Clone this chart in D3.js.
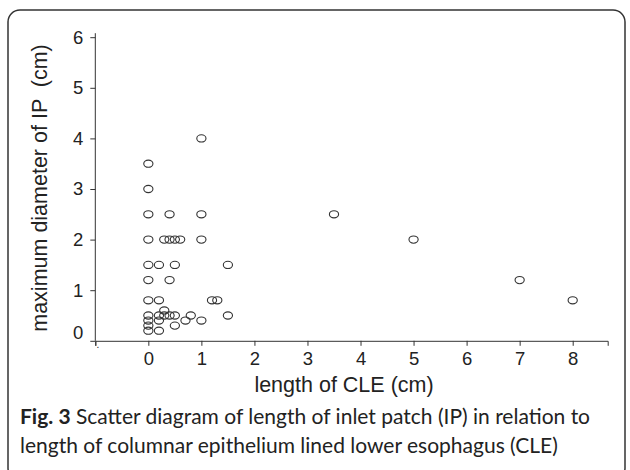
<!DOCTYPE html>
<html>
<head>
<meta charset="utf-8">
<script src="https://cdn.jsdelivr.net/npm/d3@7"></script>
<style>
  html, body { margin: 0; padding: 0; background: #fff; }
  svg { display: block; }
</style>
</head>
<body>
<svg id="chart" width="630" height="470"></svg>
<script>
// ---- data: length of CLE (cm) vs maximum diameter of IP (cm) ----
const cleLength = [
  0, 0, 0, 0, 0, 0, 0, 0, 0, 0, 0,
  0.2, 0.2, 0.2, 0.2, 0.2,
  0.3, 0.3, 0.3,
  0.4, 0.4, 0.4, 0.4,
  0.5, 0.5, 0.5, 0.5,
  0.6,
  0.7,
  0.8,
  1.0, 1.0, 1.0, 1.0,
  1.2, 1.3,
  1.5, 1.5,
  3.5, 5, 7, 8
];
const ipDiameter = [
  3.5, 3, 2.5, 2, 1.5, 1.2, 0.8, 0.5, 0.4, 0.3, 0.2,
  1.5, 0.8, 0.5, 0.4, 0.2,
  2, 0.6, 0.5,
  2.5, 2, 1.2, 0.5,
  2, 1.5, 0.5, 0.3,
  2,
  0.4,
  0.5,
  4, 2.5, 2, 0.4,
  0.8, 0.8,
  1.5, 0.5,
  2.5, 2, 1.2, 0.8
];
const xTicks = [-1, 0, 1, 2, 3, 4, 5, 6, 7, 8];
const xTickLabels = [".", "0", "1", "2", "3", "4", "5", "6", "7", "8"];
const yTicks = [0, 1, 2, 3, 4, 5, 6];
const yTickLabels = ["0", "1", "2", "3", "4", "5", "6"];
const xTitle = "length of CLE (cm)";
const yTitle = "maximum diameter of IP  (cm)";
const captionBold = "Fig. 3";
const captionLine1 = " Scatter diagram of length of inlet patch (IP) in relation to";
const captionLine2 = "length of columnar epithelium lined lower esophagus (CLE)";

const svg = d3.select("#chart");
const ink = "#222";
const axisCol = "#333";

// frame
svg.append("rect")
  .attr("x", 8).attr("y", 10).attr("width", 617).attr("height", 470)
  .attr("rx", 12).attr("ry", 12)
  .attr("fill", "none").attr("stroke", "#333").attr("stroke-width", 1.5);

const x = d3.scaleLinear().domain([-1, 8.66]).range([95.3, 607.7]);
const y = d3.scaleLinear().domain([0, 6]).range([340.8, 37.2]);

const font = "'Liberation Sans', Arial, sans-serif";

// x axis
const gx = svg.append("g").attr("transform", `translate(0,${y(0)})`)
  .call(d3.axisBottom(x).tickValues(xTicks)
    .tickFormat((d, i) => xTickLabels[i]).tickSizeOuter(0).tickSize(5).tickPadding(6));
gx.select(".domain").attr("stroke", axisCol);
gx.selectAll(".tick line").attr("stroke", axisCol);
gx.selectAll(".tick text").attr("font-family", font).attr("font-size", 18.5).attr("fill", ink);
gx.selectAll(".tick text").filter(d => d === -1)
  .attr("font-size", 10).attr("y", 4).attr("dx", 2).attr("dy", "0.3em");

// y axis
const gy = svg.append("g").attr("transform", `translate(${x(-1)},0)`)
  .call(d3.axisLeft(y).tickValues(yTicks)
    .tickFormat((d, i) => yTickLabels[i]).tickSizeOuter(0).tickSize(5).tickPadding(7));
gy.select(".domain").attr("d", `M0,${y(0)}V${y(6) - 4}`).attr("stroke", axisCol);
gy.selectAll(".tick line").attr("stroke", axisCol);
gy.selectAll(".tick text").attr("font-family", font).attr("font-size", 18.5).attr("fill", ink);
gy.selectAll(".tick text").filter(d => d === 0).attr("dy", "-0.15em");

// points
svg.append("g").selectAll("ellipse")
  .data(cleLength.map((v, i) => [v, ipDiameter[i]]))
  .join("ellipse")
  .attr("cx", d => x(d[0])).attr("cy", d => y(d[1]))
  .attr("rx", 4.6).attr("ry", 3.6)
  .attr("fill", "none").attr("stroke", "#333").attr("stroke-width", 1.1);

// axis titles
svg.append("text")
  .attr("x", 344).attr("y", 392)
  .attr("text-anchor", "middle")
  .attr("font-family", font).attr("font-size", 21.5).attr("fill", ink)
  .text(xTitle);

svg.append("text")
  .attr("transform", `translate(47,${188}) rotate(-90)`)
  .attr("text-anchor", "middle")
  .attr("font-family", font).attr("font-size", 21.5).attr("fill", ink)
  .style("white-space", "pre")
  .text(yTitle);

// caption
const capFont = "Lato, 'Open Sans', sans-serif";
const c1 = svg.append("text").attr("x", 20).attr("y", 424)
  .attr("font-family", capFont).attr("font-size", 21).attr("fill", ink)
  .style("white-space", "pre");
c1.append("tspan").attr("font-weight", "bold").text(captionBold);
c1.append("tspan").text(captionLine1);
svg.append("text").attr("x", 20).attr("y", 453)
  .attr("font-family", capFont).attr("font-size", 21).attr("fill", ink)
  .text(captionLine2);
</script>
</body>
</html>
